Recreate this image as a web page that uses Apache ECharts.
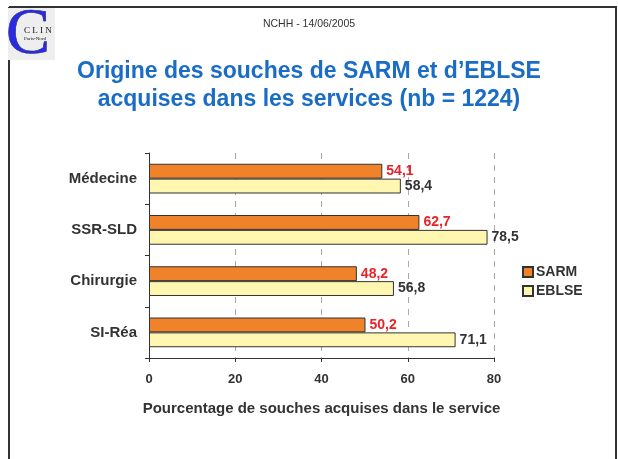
<!DOCTYPE html>
<html>
<head>
<meta charset="utf-8">
<script src="https://cdn.jsdelivr.net/npm/echarts@6/dist/echarts.min.js"></script>
<style>
  html, body { margin: 0; padding: 0; background: #fff; }
  #main { width: 618px; height: 459px; }
</style>
</head>
<body>
<div id="main"></div>
<script>
var categories = ['Médecine', 'SSR-SLD', 'Chirurgie', 'SI-Réa'];
var sarmValues = [54.1, 62.7, 48.2, 50.2];
var eblseValues = [58.4, 78.5, 56.8, 71.1];
var xTicks = [0, 20, 40, 60, 80];

var myChart = echarts.init(document.getElementById('main'));

function fmt(p) {
    return String(p.value).replace('.', ',');
}

var option = {
    animation: false,
    backgroundColor: '#fff',
    textStyle: { fontFamily: 'Liberation Sans, Arial, sans-serif' },
    title: [
        {
            text: 'NCHH - 14/06/2005',
            left: 'center',
            top: 14,
            textStyle: { fontSize: 10.5, fontWeight: 'normal', color: '#333' }
        },
        {
            text: 'Origine des souches de SARM et d\u2019EBLSE\nacquises dans les services (nb = 1224)',
            left: 'center',
            top: 53,
            textStyle: {
                fontSize: 23,
                fontWeight: 'bold',
                color: '#1a6cc4',
                lineHeight: 28
            }
        }
    ],
    legend: {
        orient: 'vertical',
        left: 517,
        top: 260,
        itemWidth: 10,
        itemHeight: 10,
        itemGap: 5,
        icon: 'rect',
        textStyle: { fontSize: 14, fontWeight: 'bold', color: '#333', padding: [0, 0, 0, -2] },
        data: ['SARM', 'EBLSE']
    },
    grid: {
        left: 149,
        right: 124,
        top: 153,
        bottom: 101
    },
    xAxis: {
        type: 'value',
        min: 0,
        max: 80,
        interval: 20,
        name: 'Pourcentage de souches acquises dans le service',
        nameLocation: 'middle',
        nameGap: 43,
        nameTextStyle: { fontSize: 15, fontWeight: 'bold', color: '#333' },
        axisLine: { show: true, lineStyle: { color: '#333', width: 1 } },
        axisTick: { show: true, length: 4, lineStyle: { color: '#333' } },
        axisLabel: {
            fontSize: 13, fontWeight: 'bold', color: '#333', margin: 15,
            formatter: function (v) { return xTicks.indexOf(v) >= 0 ? String(v) : ''; }
        },
        splitLine: { show: true, lineStyle: { color: '#aaa', type: [6, 6], width: 1 } }
    },
    yAxis: {
        type: 'category',
        data: categories,
        inverse: true,
        axisLine: { show: true, lineStyle: { color: '#333', width: 1 } },
        axisTick: { show: true, length: 4, lineStyle: { color: '#333' } },
        axisLabel: { fontSize: 15, fontWeight: 'bold', color: '#333', margin: 12 }
    },
    series: [
        {
            name: 'SARM',
            type: 'bar',
            data: sarmValues,
            barGap: '0%',
            barCategoryGap: '42%',
            itemStyle: { color: '#f0822a', borderColor: '#333', borderWidth: 1 },
            label: {
                show: true,
                position: 'right',
                distance: 4,
                formatter: fmt,
                fontSize: 14,
                fontWeight: 'bold',
                color: '#e8232a'
            }
        },
        {
            name: 'EBLSE',
            type: 'bar',
            data: eblseValues,
            itemStyle: { color: '#fff6b0', borderColor: '#333', borderWidth: 1 },
            label: {
                show: true,
                position: 'right',
                distance: 4,
                formatter: fmt,
                fontSize: 14,
                fontWeight: 'bold',
                color: '#333'
            }
        }
    ],
    graphic: [
        // slide frame
        { type: 'line', z: 1, shape: { x1: 9, y1: 7, x2: 617, y2: 7 }, style: { stroke: '#333', lineWidth: 2 } },
        { type: 'line', z: 1, shape: { x1: 9, y1: 7, x2: 9, y2: 459 }, style: { stroke: '#333', lineWidth: 2 } },
        { type: 'line', z: 1, shape: { x1: 616, y1: 7, x2: 616, y2: 459 }, style: { stroke: '#333', lineWidth: 2 } },
        // logo
        { type: 'rect', z: 2, shape: { x: 8, y: 8, width: 47, height: 52 }, style: { fill: '#eeeeee' } },
        {
            type: 'text', z: 3, x: 6, y: 3,
            style: { text: 'C', font: '66px "Liberation Serif", serif', fill: '#2a2ae0', stroke: '#111', lineWidth: 0.6 }
        },
        {
            type: 'text', z: 4, x: 24, y: 26,
            style: { text: 'C L I N', font: '9px "Liberation Serif", serif', fill: '#111' }
        },
        {
            type: 'text', z: 4, x: 24, y: 36,
            style: { text: 'Paris-Nord', font: '5px "Liberation Serif", serif', fill: '#111' }
        }
    ]
};

myChart.setOption(option);
</script>
</body>
</html>
